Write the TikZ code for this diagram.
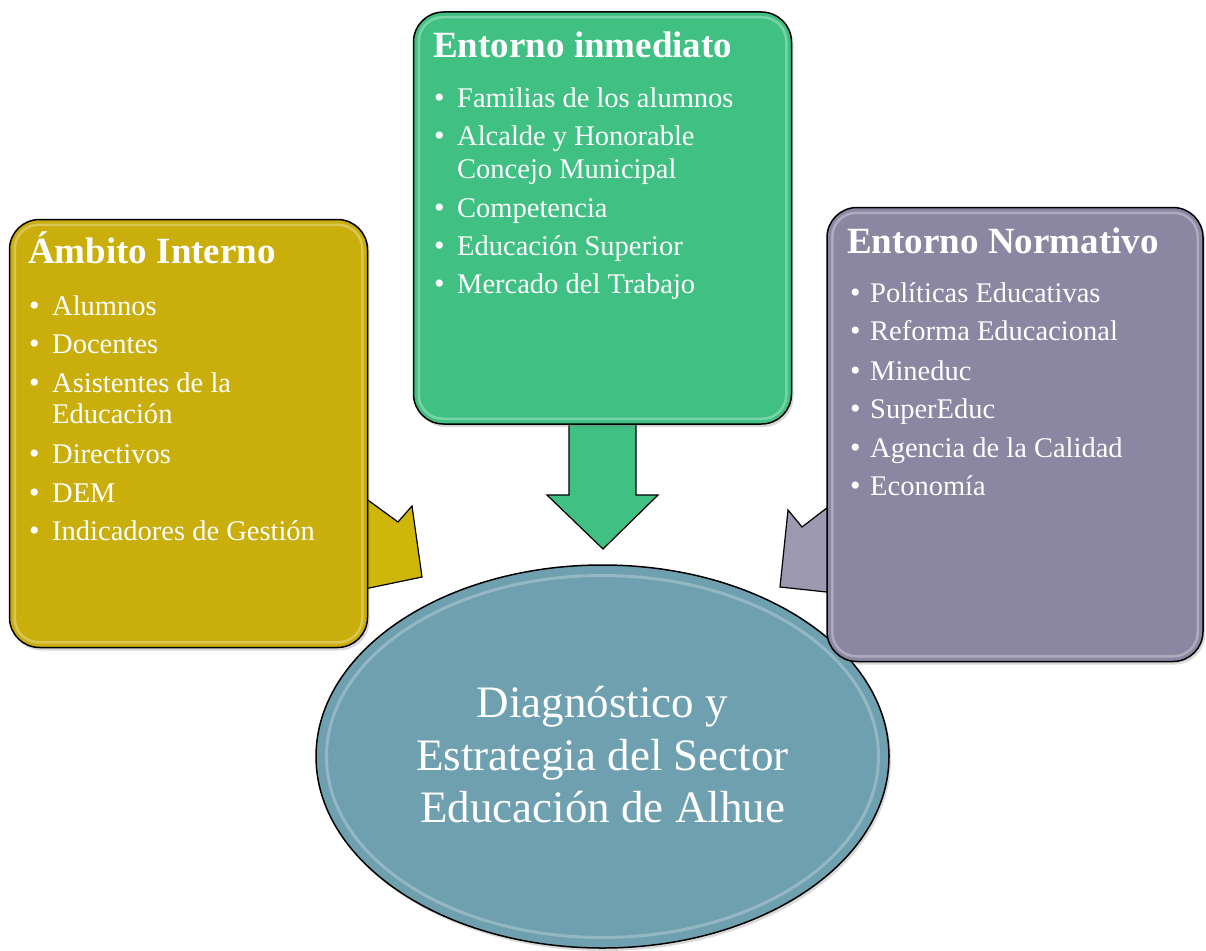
\documentclass[tikz,border=0pt]{standalone}
\usepackage{fontspec}
\setmainfont{Liberation Serif}
\usetikzlibrary{shapes.geometric,shadows}
\definecolor{goldfill}{RGB}{201,174,12}
\definecolor{mintfill}{RGB}{64,193,131}
\definecolor{lavfill}{RGB}{139,135,163}
\definecolor{ellfill}{RGB}{111,160,175}
\begin{document}
\begin{tikzpicture}[x=1pt,y=-1pt,
  box/.style={draw=black, line width=1.5pt, rounded corners=30pt, inner sep=0pt,
    drop shadow={shadow xshift=2pt,shadow yshift=-3pt,opacity=0.3}},
  hl/.style={draw=white, line width=2.5pt, opacity=0.3, rounded corners=24pt},
  head/.style={anchor=base west, inner sep=0pt, text=white, font=\fontsize{37}{42}\selectfont\bfseries},
  item/.style={anchor=base west, inner sep=0pt, text=white, font=\fontsize{28.5}{34}\selectfont},
  bul/.style={anchor=base west, inner sep=0pt, text=white, font=\fontsize{30}{34}\selectfont},
  big/.style={anchor=base, inner sep=0pt, text=white, font=\fontsize{45}{52}\selectfont},
  blockarrow/.style={draw=black, line width=1.2pt, line join=miter}]
\useasboundingbox (0,0) rectangle (1206,950);

% block arrows (behind the boxes)
\draw[blockarrow, fill=goldfill!90!yellow] (350,487) -- (398,522) -- (412,506) -- (422,577) -- (350,592) -- cycle;
\draw[blockarrow, fill=mintfill] (569,400) -- (569,495) -- (547,495) -- (603,549) -- (658,495) -- (636,495) -- (636,400) -- cycle;
\draw[blockarrow, fill=lavfill!85!white] (845,494) -- (802,527) -- (788,510) -- (780,587) -- (845,594) -- cycle;

% central ellipse
\node[ellipse, draw=black, line width=1.5pt, fill=ellfill, minimum width=573pt, minimum height=383pt, inner sep=0pt,
  drop shadow={shadow xshift=2pt,shadow yshift=-3pt,opacity=0.3}] (diag) at (602.5,756.5) {};
\draw[white, opacity=0.25, line width=3pt] (diag.center) ellipse [x radius=276, y radius=181];
\node[big] (d1) at (602.5,717) {Diagnóstico y};
\node[big] (d2) at (602.5,770) {Estrategia del Sector};
\node[big] (d3) at (602.5,822) {Educación de Alhue};

% boxes
\node[box, fill=goldfill, minimum width=358pt, minimum height=428pt] (inner) at (188.5,433.5) {};
\node[box, fill=mintfill, minimum width=378pt, minimum height=412pt] (inmed) at (602.5,218) {};
\node[box, fill=lavfill, minimum width=376pt, minimum height=454pt] (norm) at (1015,434.5) {};
\draw[hl] ([shift={(6,6)}]inner.north west) rectangle ([shift={(-6,-6)}]inner.south east);
\draw[hl] ([shift={(6,6)}]inmed.north west) rectangle ([shift={(-6,-6)}]inmed.south east);
\draw[hl] ([shift={(6,6)}]norm.north west) rectangle ([shift={(-6,-6)}]norm.south east);

% left box text
\node[head] (ih) at (28,263) {Ámbito Interno};
\node[bul] (ib1) at (29,315) {\textbullet};
\node[bul] (ib2) at (29,353) {\textbullet};
\node[bul] (ib3) at (29,392) {\textbullet};
\node[bul] (ib4) at (29,463) {\textbullet};
\node[bul] (ib5) at (29,502) {\textbullet};
\node[bul] (ib6) at (29,540) {\textbullet};
\node[item] (i1) at (52,315) {Alumnos};
\node[item] (i2) at (52,353) {Docentes};
\node[item] (i3) at (52,392) {Asistentes de la};
\node[item] (i3b) at (52,423) {Educación};
\node[item] (i4) at (52,463) {Directivos};
\node[item] (i5) at (52,502) {DEM};
\node[item] (i6) at (52,540) {Indicadores de Gestión};

% middle box text
\node[head] (mh) at (433,58) {Entorno inmediato};
\node[bul] (mb1) at (434,107) {\textbullet};
\node[bul] (mb2) at (434,145) {\textbullet};
\node[bul] (mb3) at (434,217) {\textbullet};
\node[bul] (mb4) at (434,255) {\textbullet};
\node[bul] (mb5) at (434,293) {\textbullet};
\node[item] (m1) at (457,107) {Familias de los alumnos};
\node[item] (m2) at (457,145) {Alcalde y Honorable};
\node[item] (m2b) at (457,178) {Concejo Municipal};
\node[item] (m3) at (457,217) {Competencia};
\node[item] (m4) at (457,255) {Educación Superior};
\node[item] (m5) at (457,293) {Mercado del Trabajo};

% right box text
\node[head] (nh) at (847,253) {Entorno Normativo};
\node[bul] (nb1) at (850,302) {\textbullet};
\node[bul] (nb2) at (850,340) {\textbullet};
\node[bul] (nb3) at (850,380) {\textbullet};
\node[bul] (nb4) at (850,418) {\textbullet};
\node[bul] (nb5) at (850,457) {\textbullet};
\node[bul] (nb6) at (850,495) {\textbullet};
\node[item] (n1) at (870,302) {Políticas Educativas};
\node[item] (n2) at (870,340) {Reforma Educacional};
\node[item] (n3) at (870,380) {Mineduc};
\node[item] (n4) at (870,418) {SuperEduc};
\node[item] (n5) at (870,457) {Agencia de la Calidad};
\node[item] (n6) at (870,495) {Economía};
\end{tikzpicture}
\end{document}
